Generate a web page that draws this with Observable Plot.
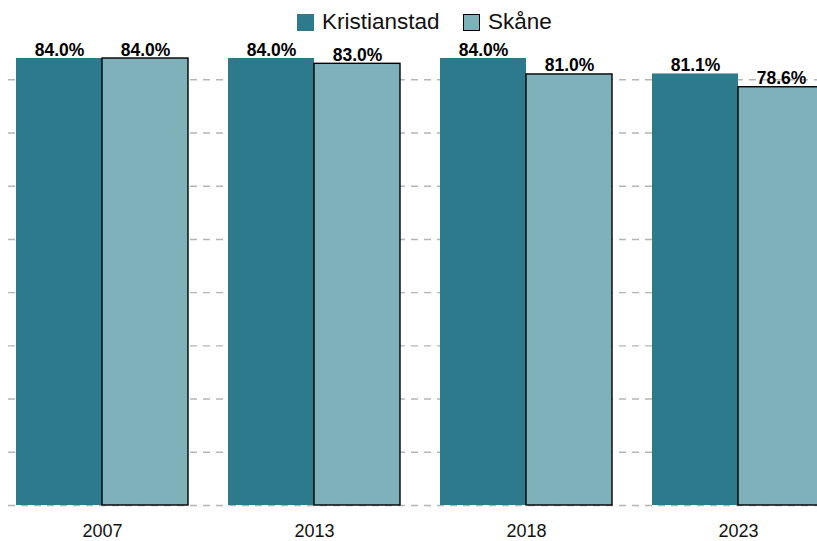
<!DOCTYPE html>
<html>
<head>
<meta charset="utf-8">
<script src="https://cdn.jsdelivr.net/npm/d3@7"></script>
<script src="https://cdn.jsdelivr.net/npm/@observablehq/plot@0.6"></script>
<style>
  html, body { margin: 0; padding: 0; background: #fff; overflow: hidden; }
  body { width: 817px; height: 541px; font-family: "Liberation Sans", Arial, sans-serif; }
  #legend { position: relative; height: 34px; }
  .item { position: absolute; top: 6px; display: flex; align-items: center; font-size: 22.5px; color: #111; height: 32px; }
  .sw { width: 17px; height: 17px; margin-right: 8px; box-sizing: border-box; }
  #chart svg { display: block; max-width: none; }
</style>
</head>
<body>
<div id="legend"></div>
<div id="chart"></div>
<script>
const years = ["2007", "2013", "2018", "2023"];
const kristianstad = [84.0, 84.0, 84.0, 81.1];
const skane = [84.0, 83.0, 81.0, 78.6];
const seriesNames = ["Kristianstad", "Skåne"];
const colors = ["#2e7a8d", "#7fb1bb"];
const gridTicks = [0, 10, 20, 30, 40, 50, 60, 70, 80];

const rowsK = years.map((y, i) => ({year: y, value: kristianstad[i]}));
const rowsS = years.map((y, i) => ({year: y, value: skane[i]}));
const fmt = d => d.value.toFixed(1) + "%";

// legend
const legend = document.getElementById("legend");
const lefts = [297, 463];
seriesNames.forEach((n, i) => {
  const it = document.createElement("div");
  it.className = "item";
  it.style.left = lefts[i] + "px";
  const sw = document.createElement("div");
  sw.className = "sw";
  sw.style.background = colors[i];
  if (i === 1) sw.style.border = "1.5px solid #000";
  it.appendChild(sw);
  const t = document.createElement("span");
  t.textContent = n;
  it.appendChild(t);
  legend.appendChild(it);
});

const half = 86;
const plot = Plot.plot({
  width: 817,
  height: 507,
  marginTop: 24,
  marginBottom: 36,
  marginLeft: 8,
  marginRight: 0,
  style: {fontFamily: "Liberation Sans, Arial, sans-serif", background: "white"},
  x: {domain: years, range: [0, 840], paddingInner: 40 / 212, paddingOuter: 16 / 212, label: null},
  y: {domain: [0, 84], axis: null},
  marks: [
    Plot.gridY(gridTicks, {stroke: "#b5b5b5", strokeOpacity: 1, strokeWidth: 1.4, strokeDasharray: "7,6"}),
    Plot.barY(rowsK, {x: "year", y: "value", fill: colors[0], insetRight: half}),
    Plot.barY(rowsS, {x: "year", y: "value", fill: colors[1], stroke: "#000", strokeWidth: 1.4, insetLeft: half}),
    Plot.text(rowsK, {x: "year", y: "value", text: fmt, dx: -half / 2, dy: -3, lineAnchor: "bottom", fontSize: 17.5, fontWeight: "bold", fill: "#000"}),
    Plot.text(rowsS, {x: "year", y: "value", text: fmt, dx: half / 2, dy: -3, lineAnchor: "bottom", fontSize: 17.5, fontWeight: "bold", fill: "#000"}),
    Plot.axisX({tickSize: 0, tickPadding: 19, fontSize: 18, label: null, fill: "#111"})
  ]
});
document.getElementById("chart").appendChild(plot);
</script>
</body>
</html>
